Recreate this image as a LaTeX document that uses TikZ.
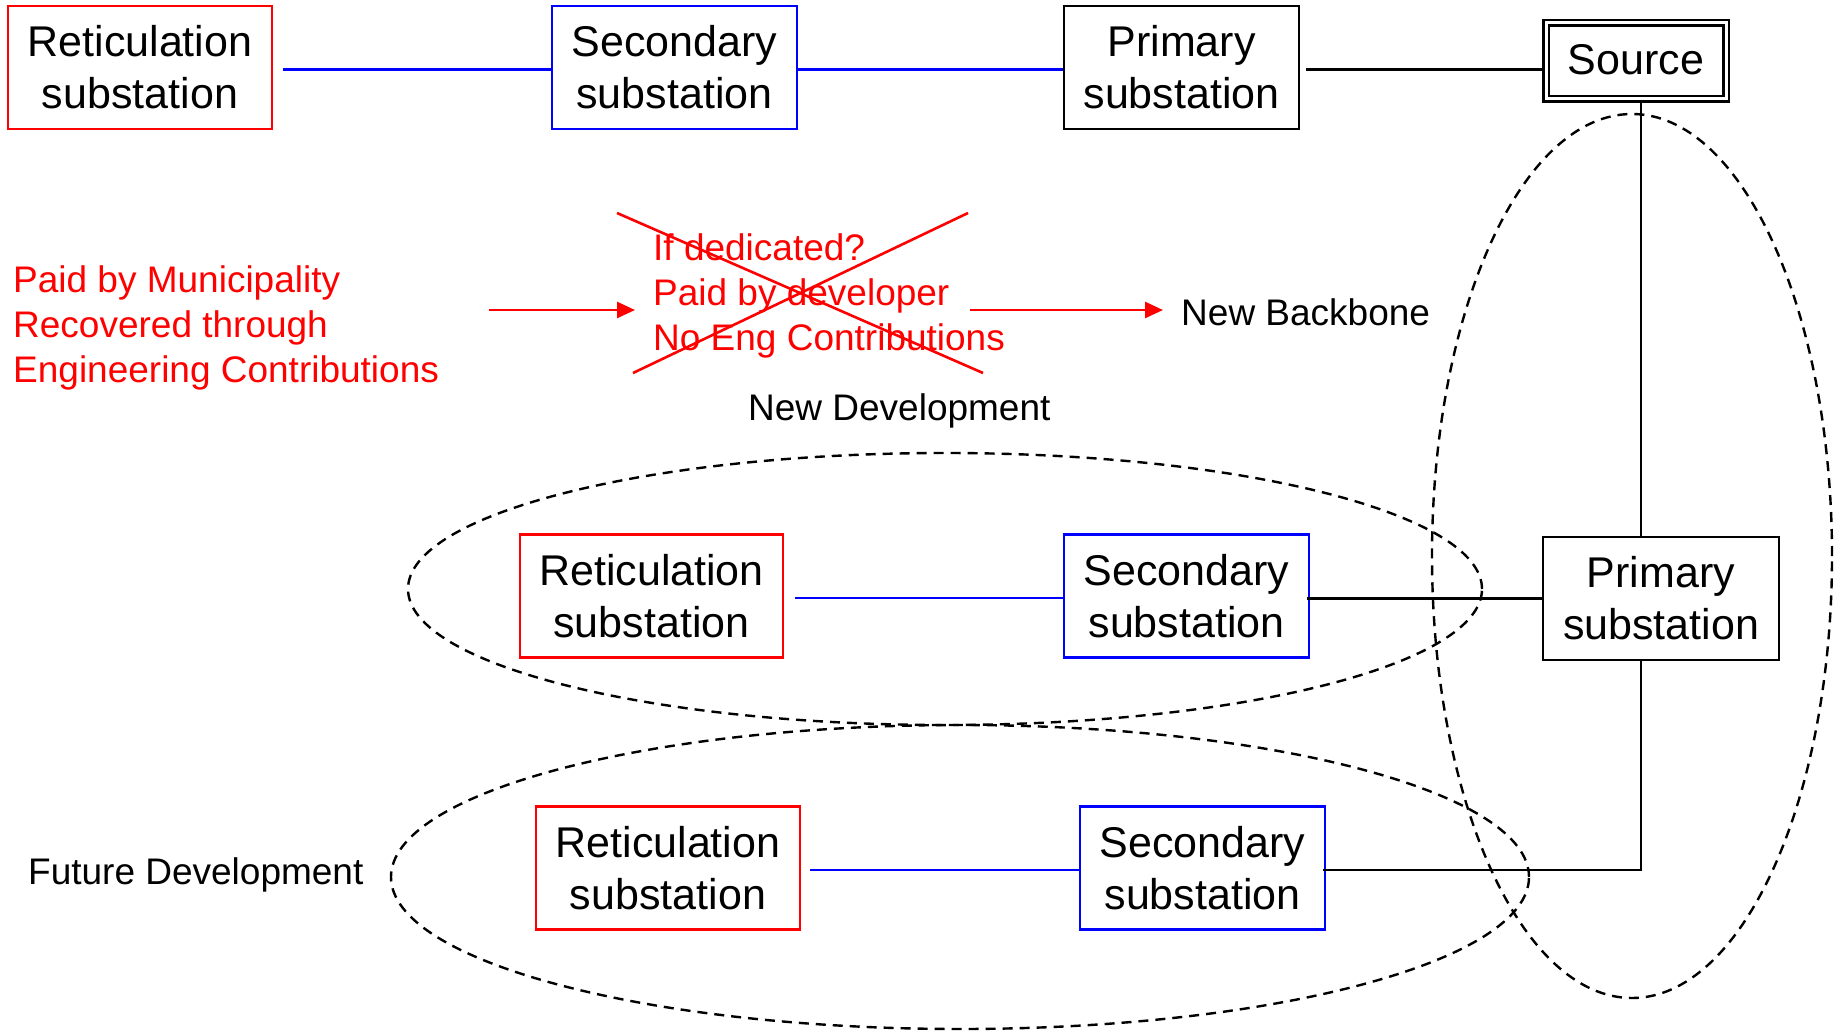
\documentclass[tikz,border=0pt]{standalone}
\usepackage{fontspec}
\setmainfont{Liberation Sans}
\usetikzlibrary{arrows.meta}
\begin{document}
\begin{tikzpicture}[x=1pt,y=-1pt,
  bigfont/.style={font=\fontsize{43pt}{52pt}\selectfont},
  smallfont/.style={font=\fontsize{37pt}{45pt}\selectfont},
  sbox/.style={draw, line width=2.6pt, bigfont, align=center, inner sep=0pt, minimum height=123pt},
  redbox/.style={sbox, draw=red},
  bluebox/.style={sbox, draw=blue},
  blackbox/.style={sbox, draw=black},
  blueline/.style={draw=blue, line width=2.6pt},
  blackline/.style={draw=black, line width=2.6pt},
  boundary/.style={draw=black, line width=2.4pt, dash pattern=on 10pt off 7pt},
  redarrow/.style={draw=red, line width=2.6pt, -{Triangle[length=18pt,width=16pt]}},
  crossline/.style={draw=red, line width=2.6pt},
]
\useasboundingbox (0,0) rectangle (1839,1032);
% dashed boundaries
\draw[boundary] (1632,556) ellipse [x radius=200pt, y radius=442pt];
\draw[boundary] (945,589) ellipse [x radius=537pt, y radius=136pt];
\draw[boundary] (960,877) ellipse [x radius=569pt, y radius=152pt];

% top row
\node[redbox, minimum width=264pt] (ret1) at (140,67.5) {Reticulation\\substation};
\node[bluebox, minimum width=245pt] (sec1) at (674.5,67.5) {Secondary\\substation};
\node[blackbox, minimum width=235pt] (pri1) at (1181.5,67.5) {Primary\\substation};
\node[draw, bigfont, line width=2.4pt, double, double distance=3pt, inner sep=0pt,
      minimum width=180pt, minimum height=76pt, text depth=3pt] (src) at (1636,61) {Source};

% middle row
\node[redbox, minimum width=263pt] (ret2) at (651.5,596) {Reticulation\\substation};
\node[bluebox, minimum width=245pt] (sec2) at (1186.5,596) {Secondary\\substation};
\node[blackbox, minimum width=236pt] (pri2) at (1661,598.5) {Primary\\substation};

% bottom row
\node[redbox, minimum width=264pt] (ret3) at (668,868) {Reticulation\\substation};
\node[bluebox, minimum width=245pt] (sec3) at (1202.5,868) {Secondary\\substation};

% texts
\node[smallfont, text=red, align=left, anchor=west, inner sep=0pt] (pay) at (13,328)
  {Paid by Municipality\\Recovered through\\Engineering Contributions};
\node[smallfont, text=red, align=left, anchor=west, inner sep=0pt] (ded) at (653,296)
  {If dedicated?\\Paid by developer\\No Eng Contributions};
\node[smallfont, anchor=west, inner sep=0pt] (bb) at (1181,312) {New Backbone};
\node[smallfont, anchor=west, inner sep=0pt] (newdev) at (748,410.5) {New Development};
\node[smallfont, anchor=west, inner sep=0pt] (futdev) at (28,874.5) {Future Development};

% crossing-out lines
\coordinate (x1a) at (617,213);
\coordinate (x1b) at (983,373);
\coordinate (x2a) at (968,213);
\coordinate (x2b) at (633,373);
\draw[crossline] (x1a) -- (x1b);
\draw[crossline] (x2a) -- (x2b);

% red arrows
\coordinate (a1s) at (489,310);
\coordinate (a1e) at (635,310);
\coordinate (a2s) at (970,310);
\coordinate (a2e) at (1163,310);
\draw[redarrow] (a1s) -- (a1e);
\draw[redarrow] (a2s) -- (a2e);

% connectors top
\draw[blueline, shorten <=10pt] ([yshift=-2pt]ret1.east) -- ([yshift=-2pt]sec1.west);
\draw[blueline] ([yshift=-2pt]sec1.east) -- ([yshift=-2pt]pri1.west);
\draw[blackline, shorten <=6pt] ([yshift=-2pt]pri1.east) -- ([yshift=-2pt]pri1.east -| src.west);

% bus from source
\coordinate (bx) at (1641,0);
\draw[blackline] (bx |- src.south) -- (bx |- pri2.north);
\draw[blackline] (bx |- pri2.south) -- ([yshift=-2pt]bx |- sec3.east) -- ([xshift=-3pt,yshift=-2pt]sec3.east);

% connectors middle
\draw[blueline, shorten <=11pt] ([yshift=-2pt]ret2.east) -- ([yshift=-2pt]sec2.west);
\draw[blackline] ([xshift=-3pt]sec2.east |- pri2.west) -- (pri2.west);

% connectors bottom
\draw[blueline, shorten <=9pt] ([yshift=-2pt]ret3.east) -- ([yshift=-2pt]sec3.west);
\end{tikzpicture}
\end{document}
